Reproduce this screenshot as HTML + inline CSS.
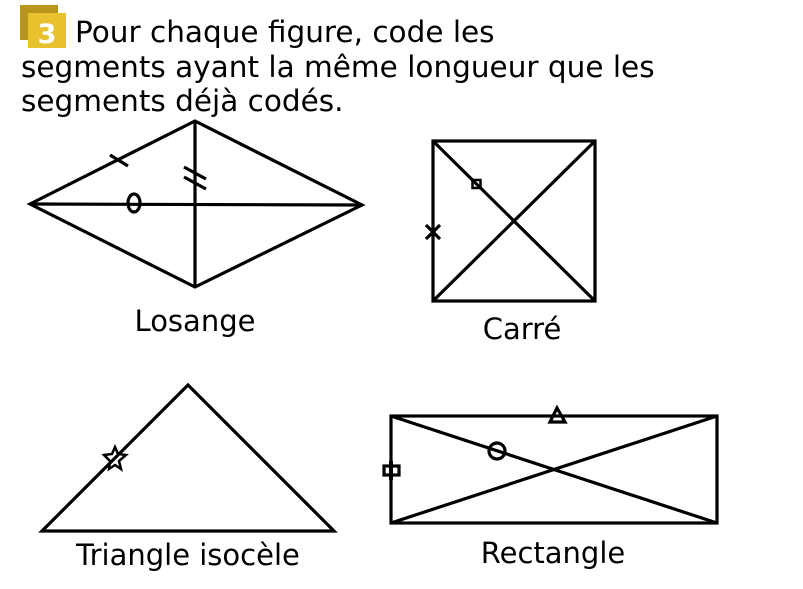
<!DOCTYPE html>
<html><head><meta charset="utf-8"><style>
html,body{margin:0;padding:0;background:#fff;}
svg{display:block;}
text{font-family:"DejaVu Sans","Liberation Sans",sans-serif;fill:#000;}
</style></head><body>
<svg width="803" height="589" viewBox="0 0 803 589" xmlns="http://www.w3.org/2000/svg">
<rect x="20" y="5" width="38" height="35" fill="#b8961e"/>
<rect x="28" y="13" width="38" height="35" fill="#e8c22e"/>
<text x="47" y="43" font-size="27" font-weight="bold" text-anchor="middle" style="fill:#fff">3</text>
<text x="75" y="42" font-size="29.5">Pour chaque figure, code les</text>
<text x="21" y="77" font-size="29.5">segments ayant la même longueur que les</text>
<text x="21" y="111" font-size="29.5">segments déjà codés.</text>
<g stroke="#000" stroke-width="3.2" fill="none">
<polygon points="30,204 195,121 362,205 195,287"/>
<line x1="30" y1="204" x2="362" y2="205"/>
<line x1="195" y1="121" x2="195" y2="287"/>
<line x1="110" y1="155" x2="128" y2="166"/>
<ellipse cx="134" cy="203" rx="6" ry="9"/>
<line x1="184" y1="167" x2="206" y2="179"/>
<line x1="184" y1="177" x2="206" y2="189"/>
<rect x="433" y="141" width="162" height="160"/>
<line x1="433" y1="141" x2="595" y2="301"/>
<line x1="595" y1="141" x2="433" y2="301"/>
<rect x="472.5" y="180" width="8" height="8" stroke-width="2.5"/>
<line x1="426" y1="225" x2="440" y2="239"/>
<line x1="440" y1="225" x2="426" y2="239"/>
<polygon points="42,531 188,385 334,531"/>
<polygon stroke-width="2.5" points="115,447 118,454 126,455 119,461 121,469 115,465 109,469 110,461 104,455 112,454"/>
<rect x="391" y="416" width="326" height="107"/>
<line x1="391" y1="416" x2="717" y2="523"/>
<line x1="717" y1="416" x2="391" y2="523"/>
<polygon points="557,408 550,422 565,422"/>
<circle cx="497" cy="451" r="8"/>
<rect x="384" y="466" width="15" height="9" fill="#fff"/>
<line x1="391" y1="461" x2="391" y2="480" stroke-width="4"/>
</g>
<text x="195" y="331" font-size="29" text-anchor="middle">Losange</text>
<text x="522" y="339" font-size="29" text-anchor="middle">Carré</text>
<text x="188" y="565" font-size="29" text-anchor="middle">Triangle isocèle</text>
<text x="553" y="563" font-size="29" text-anchor="middle">Rectangle</text>
</svg>
</body></html>
